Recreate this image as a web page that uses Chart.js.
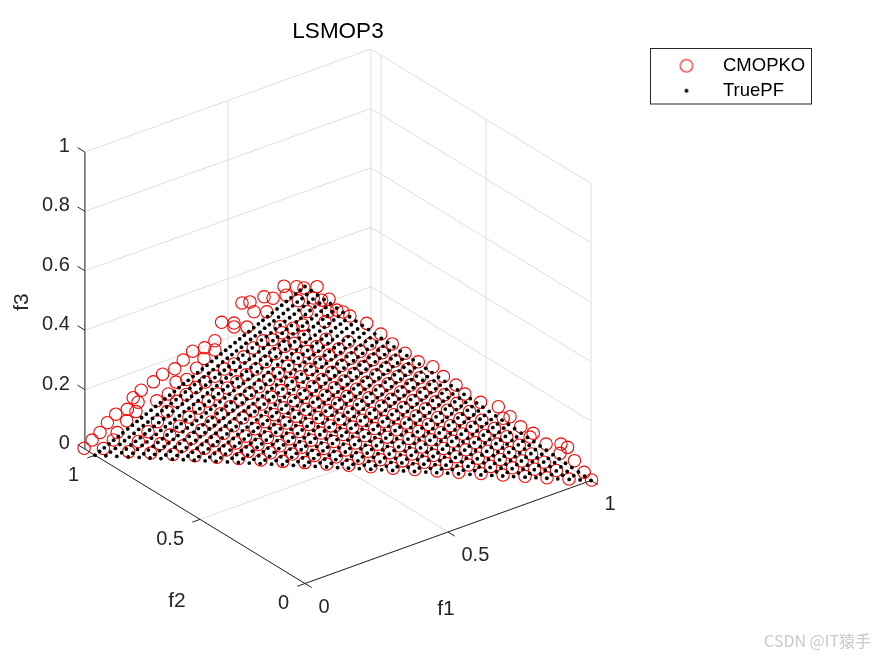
<!DOCTYPE html>
<html>
<head>
<meta charset="utf-8">
<title>LSMOP3</title>
<script src="https://cdn.jsdelivr.net/npm/chart.js@4"></script>
<style>
  html, body { margin: 0; padding: 0; background: #fff; }
  canvas { display: block; }
</style>
</head>
<body>
<canvas id="chart" width="875" height="656"></canvas>
<script>
// all f values are in thousandths
const cmopkoF1 = [
  0,0,0,0,0,0,0,0,0,0,0,0,0,0,0,0,0,0,0,0,0,0,0,0,0,0,0,0,0,0,0,0,0,0,0,0,0,0,0,0,0,0,0,0,0,0,
  42,29,58,84,111,7,81,70,157,133,216,265,305,350,396,447,484,528,559,614,676,693,717,754,798,787,843,895,918,892,942,976,1002,
  87,130,174,218,261,304,348,391,435,478,522,565,609,652,696,739,783,826,870,913,957,
  87,130,174,218,261,304,348,391,435,478,522,565,609,652,696,739,783,826,870,913,
  87,130,174,218,261,304,348,391,435,478,522,565,609,652,696,739,783,826,870,
  87,130,174,218,261,304,348,391,435,478,522,565,609,652,696,739,783,826,
  87,130,174,218,261,304,348,391,435,478,522,565,609,652,696,739,783,
  87,130,174,218,261,304,348,391,435,478,522,565,609,652,696,739,
  87,130,174,218,261,304,348,391,435,478,522,565,609,652,696,
  87,130,174,218,261,304,348,391,435,478,522,565,609,652,
  87,130,174,218,261,304,348,391,435,478,522,565,609,
  87,130,174,218,261,304,348,391,435,478,522,565,
  87,130,174,218,261,304,348,391,435,478,522,
  87,130,174,218,261,304,348,391,435,478,
  87,130,174,218,261,304,348,391,435,
  87,130,174,218,261,304,348,391,
  87,130,174,218,261,304,348,
  87,130,174,218,261,304,
  87,130,174,218,261
];
const cmopkoF2 = [
  1052,1014,976,941,901,846,818,795,805,849,894,780,722,678,620,580,535,478,429,481,429,516,614,563,651,706,397,338,338,276,300,262,243,195,152,182,100,40,5,90,32,119,57,10,960,913,
  0,0,0,0,0,0,0,0,0,0,0,0,0,0,0,0,0,0,0,0,0,0,0,0,0,0,0,0,0,0,0,0,0,
  958,912,866,821,775,730,684,638,593,547,502,456,410,365,319,274,228,182,137,91,46,
  912,866,821,775,730,684,638,593,547,502,456,410,365,319,274,228,182,137,91,46,
  866,821,775,730,684,638,593,547,502,456,410,365,319,274,228,182,137,91,46,
  821,775,730,684,638,593,547,502,456,410,365,319,274,228,182,137,91,46,
  775,730,684,638,593,547,502,456,410,365,319,274,228,182,137,91,46,
  730,684,638,593,547,502,456,410,365,319,274,228,182,137,91,46,
  684,638,593,547,502,456,410,365,319,274,228,182,137,91,46,
  638,593,547,502,456,410,365,319,274,228,182,137,91,46,
  593,547,502,456,410,365,319,274,228,182,137,91,46,
  547,502,456,410,365,319,274,228,182,137,91,46,
  502,456,410,365,319,274,228,182,137,91,46,
  456,410,365,319,274,228,182,137,91,46,
  410,365,319,274,228,182,137,91,46,
  365,319,274,228,182,137,91,46,
  319,274,228,182,137,91,46,
  274,228,182,137,91,46,
  228,182,137,91,46
];
const cmopkoF3 = [
  1,45,87,135,181,221,272,267,231,181,122,314,367,412,455,502,551,587,632,550,601,502,413,444,357,310,708,731,718,744,815,835,810,881,895,836,958,982,993,932,938,813,835,866,40,89,
  985,951,934,928,882,913,887,857,846,868,801,748,701,654,609,575,529,485,444,397,361,316,313,266,229,220,177,159,140,129,87,36,1,
  0,0,0,0,0,0,0,0,0,0,0,0,0,0,0,0,0,0,0,0,0,
  54,51,48,45,44,44,44,44,44,44,44,44,44,44,44,44,44,44,44,44,
  107,100,94,90,87,87,87,87,87,87,87,87,87,87,87,87,87,87,87,
  160,150,141,135,130,130,130,130,130,130,130,130,130,130,130,130,130,130,
  214,200,188,180,174,174,174,174,174,174,174,174,174,174,174,174,174,
  268,250,236,226,218,218,218,218,218,218,218,218,218,218,218,218,
  311,294,279,269,261,261,261,261,261,261,261,261,261,261,261,
  354,337,322,312,304,304,304,304,304,304,304,304,304,304,
  392,377,363,355,348,348,348,348,348,348,348,348,348,
  431,417,405,397,391,391,391,391,391,391,391,391,
  475,461,449,441,435,435,435,435,435,435,435,
  512,500,490,483,478,478,478,478,478,478,
  556,544,534,527,522,522,522,522,522,
  605,591,579,571,565,565,565,565,
  649,635,623,615,609,609,609,
  672,665,659,655,652,652,
  716,709,703,699,696
];

// TruePF is a regular surface: f1 and f2 levels plus an f3 row per f1 level
const truePfLevels = [0,22,44,67,89,111,133,156,178,200,222,244,267,289,311,333,356,378,400,422,444,467,489,511,533,556,578,600,622,644,667,689,711,733,756,778,800,822,844,867,889,911,933,956,978,1000];
const truePfF3 = [
  [1000,978,956,933,911,889,867,844,822,800,778,756,733,711,689,667,644,622,600,578,556,533,511,489,467,444,422,400,378,356,333,311,289,267,244,222,200,178,156,133,111,89,67,44,22,0],
  [978,956,933,911,889,867,844,822,800,778,756,733,711,689,667,644,622,600,578,556,533,511,489,467,444,422,400,378,356,333,311,289,267,244,222,200,178,156,133,111,89,67,44,22,0],
  [956,933,911,889,867,844,822,800,778,756,733,711,689,667,644,622,600,578,556,533,511,489,467,444,422,400,378,356,333,311,289,267,244,222,200,178,156,133,111,89,67,44,22,0],
  [933,911,889,867,844,822,800,778,756,733,711,689,667,644,622,600,578,556,533,511,489,467,444,422,400,378,356,333,311,289,267,244,222,200,178,156,133,111,89,67,44,22,0],
  [911,889,867,844,822,800,778,756,733,711,689,667,644,622,600,578,556,533,511,489,467,444,422,400,378,356,333,311,289,267,244,222,200,178,156,133,111,89,67,44,22,0],
  [889,867,844,822,800,778,756,733,711,689,667,644,622,600,578,556,533,511,489,467,444,422,400,378,356,333,311,289,267,244,222,200,178,156,133,111,89,67,44,22,0],
  [867,844,822,800,778,756,733,711,689,667,644,622,600,578,556,533,511,489,467,444,422,400,378,356,333,311,289,267,244,222,200,178,156,133,111,89,67,44,22,0],
  [844,822,800,778,756,733,711,689,667,644,622,600,578,556,533,511,489,467,444,422,400,378,356,333,311,289,267,244,222,200,178,156,133,111,89,67,44,22,0],
  [822,800,778,756,733,711,689,667,644,622,600,578,556,533,511,489,467,444,422,400,378,356,333,311,289,267,244,222,200,178,156,133,111,89,67,44,22,0],
  [800,778,756,733,711,689,667,644,622,600,578,556,533,511,489,467,444,422,400,378,356,333,311,289,267,244,222,200,178,156,133,111,89,67,44,22,0],
  [778,756,733,711,689,667,644,622,600,578,556,533,511,489,467,444,422,400,378,356,333,311,289,267,244,222,200,178,156,133,111,89,67,44,22,0],
  [756,733,711,689,667,644,622,600,578,556,533,511,489,467,444,422,400,378,356,333,311,289,267,244,222,200,178,156,133,111,89,67,44,22,0],
  [733,711,689,667,644,622,600,578,556,533,511,489,467,444,422,400,378,356,333,311,289,267,244,222,200,178,156,133,111,89,67,44,22,0],
  [711,689,667,644,622,600,578,556,533,511,489,467,444,422,400,378,356,333,311,289,267,244,222,200,178,156,133,111,89,67,44,22,0],
  [689,667,644,622,600,578,556,533,511,489,467,444,422,400,378,356,333,311,289,267,244,222,200,178,156,133,111,89,67,44,22,0],
  [667,644,622,600,578,556,533,511,489,467,444,422,400,378,356,333,311,289,267,244,222,200,178,156,133,111,89,67,44,22,0],
  [644,622,600,578,556,533,511,489,467,444,422,400,378,356,333,311,289,267,244,222,200,178,156,133,111,89,67,44,22,0],
  [622,600,578,556,533,511,489,467,444,422,400,378,356,333,311,289,267,244,222,200,178,156,133,111,89,67,44,22,0],
  [600,578,556,533,511,489,467,444,422,400,378,356,333,311,289,267,244,222,200,178,156,133,111,89,67,44,22,0],
  [578,556,533,511,489,467,444,422,400,378,356,333,311,289,267,244,222,200,178,156,133,111,89,67,44,22,0],
  [556,533,511,489,467,444,422,400,378,356,333,311,289,267,244,222,200,178,156,133,111,89,67,44,22,0],
  [533,511,489,467,444,422,400,378,356,333,311,289,267,244,222,200,178,156,133,111,89,67,44,22,0],
  [511,489,467,444,422,400,378,356,333,311,289,267,244,222,200,178,156,133,111,89,67,44,22,0],
  [489,467,444,422,400,378,356,333,311,289,267,244,222,200,178,156,133,111,89,67,44,22,0],
  [467,444,422,400,378,356,333,311,289,267,244,222,200,178,156,133,111,89,67,44,22,0],
  [444,422,400,378,356,333,311,289,267,244,222,200,178,156,133,111,89,67,44,22,0],
  [422,400,378,356,333,311,289,267,244,222,200,178,156,133,111,89,67,44,22,0],
  [400,378,356,333,311,289,267,244,222,200,178,156,133,111,89,67,44,22,0],
  [378,356,333,311,289,267,244,222,200,178,156,133,111,89,67,44,22,0],
  [356,333,311,289,267,244,222,200,178,156,133,111,89,67,44,22,0],
  [333,311,289,267,244,222,200,178,156,133,111,89,67,44,22,0],
  [311,289,267,244,222,200,178,156,133,111,89,67,44,22,0],
  [289,267,244,222,200,178,156,133,111,89,67,44,22,0],
  [267,244,222,200,178,156,133,111,89,67,44,22,0],
  [244,222,200,178,156,133,111,89,67,44,22,0],
  [222,200,178,156,133,111,89,67,44,22,0],
  [200,178,156,133,111,89,67,44,22,0],
  [178,156,133,111,89,67,44,22,0],
  [156,133,111,89,67,44,22,0],
  [133,111,89,67,44,22,0],
  [111,89,67,44,22,0],
  [89,67,44,22,0],
  [67,44,22,0],
  [44,22,0],
  [22,0],
  [0]
];

const f1Ticks = [0, 0.5, 1];
const f2Ticks = [0, 0.5, 1];
const f3Ticks = [0, 0.2, 0.4, 0.6, 0.8, 1];
const f2Max = 1.048; // matlab ran the f2 axis a bit past the last tick

// view of the 3D box, screen units per unit of f
function project(f1, f2, f3) {
  return {
    x: 305 + 286 * f1 - 210 * f2,
    y: 583.5 - 103 * f1 - 128.3 * f2 - 297 * f3
  };
}

const cmopkoPoints = cmopkoF1.map((f1, i) => project(f1 / 1000, cmopkoF2[i] / 1000, cmopkoF3[i] / 1000));

const truePfPoints = [];
truePfF3.forEach((row, i) => {
  row.forEach((f3, j) => {
    truePfPoints.push(project(truePfLevels[i] / 1000, truePfLevels[j] / 1000, f3 / 1000));
  });
});

// line segments separated by gaps
function segments(list) {
  const out = [];
  list.forEach(([a, b]) => {
    out.push(project(...a), project(...b), { x: null, y: null });
  });
  return out;
}

const gridSegments = [];
f3Ticks.forEach(z => {
  gridSegments.push([[0, f2Max, z], [1, f2Max, z]], [[1, f2Max, z], [1, 0, z]]);
});
f1Ticks.forEach(t => {
  gridSegments.push([[t, f2Max, 0], [t, f2Max, 1]], [[t, 0, 0], [t, f2Max, 0]]);
});
f2Ticks.forEach(t => {
  gridSegments.push([[1, t, 0], [1, t, 1]], [[0, t, 0], [1, t, 0]]);
});

const axisSegments = [
  [[0, 0, 0], [1, 0, 0]],
  [[0, 0, 0], [0, f2Max, 0]],
  [[0, f2Max, 0], [0, f2Max, 1]]
];
f1Ticks.forEach(t => axisSegments.push([[t, 0, 0], [t, -0.032, 0]]));
f2Ticks.forEach(t => axisSegments.push([[0, t, 0], [-0.027, t, 0]]));
f3Ticks.forEach(t => axisSegments.push([[0, f2Max, t], [0, f2Max + 0.035, t]]));

function markerCanvas(draw) {
  const c = document.createElement("canvas");
  c.width = 18;
  c.height = 18;
  draw(c.getContext("2d"));
  return c;
}
const circleMarker = markerCanvas(g => {
  g.strokeStyle = "#ff0000";
  g.lineWidth = 1.1;
  g.beginPath();
  g.arc(9, 9, 6.2, 0, Math.PI * 2);
  g.stroke();
});
const dotMarker = markerCanvas(g => {
  g.fillStyle = "#000";
  g.beginPath();
  g.arc(9, 9, 1.9, 0, Math.PI * 2);
  g.fill();
});

const axisText = {
  id: "axisText",
  afterLayout(chart) {
    // title and legend sit off centre in the figure
    const t = chart.titleBlock;
    t.left = 238;
    t.right = 438;
    const l = chart.legend;
    l.left = 652.75;
    l.right = 811;
    l.top = 50;
    l.bottom = 400; // past the last row, the legend wraps otherwise
  },
  afterDraw(chart) {
    const { ctx, scales } = chart;
    const put = (text, p, dx, dy, align, size) => {
      ctx.font = size + 'px "Liberation Sans"';
      ctx.textAlign = align;
      ctx.textBaseline = "middle";
      ctx.fillText(text, scales.x.getPixelForValue(p.x) + dx, scales.y.getPixelForValue(p.y) + dy);
    };
    ctx.save();
    ctx.fillStyle = "#262626";
    f3Ticks.forEach(t => put(String(t), project(0, f2Max, t), -15, -5.5, "right", 20));
    f2Ticks.forEach(t => put(String(t), project(0, t, 0), -16, 20, "right", 20));
    f1Ticks.forEach(t => put(String(t), project(t, 0, 0), 13.5, 23.5, "left", 20));
    put("f1", { x: 446, y: 609 }, 0, 0, "center", 21);
    put("f2", { x: 177, y: 601 }, 0, 0, "center", 21);

    ctx.translate(22, 302);
    ctx.rotate(-Math.PI / 2);
    ctx.font = '21px "Liberation Sans"';
    ctx.textAlign = "center";
    ctx.fillText("f3", 0, 0);
    ctx.restore();

    ctx.save();
    ctx.strokeStyle = "#262626";
    ctx.lineWidth = 1;
    ctx.strokeRect(650.5, 48.5, 161, 55.5);
    ctx.fillStyle = "#c9c9c9";
    ctx.font = '16px "Noto Sans CJK SC"';
    ctx.textAlign = "right";
    ctx.textBaseline = "middle";
    ctx.fillText("CSDN @IT猿手", 871, 641);
    ctx.restore();
  }
};

new Chart(document.getElementById("chart").getContext("2d"), {
  type: "scatter",
  data: {
    datasets: [
      {
        label: "CMOPKO",
        data: cmopkoPoints,
        order: 2,
        pointStyle: "circle",
        pointRadius: 6.2,
        pointBorderWidth: 1.1,
        pointBorderColor: "#ff0000",
        pointBackgroundColor: "transparent"
      },
      {
        label: "TruePF",
        data: truePfPoints,
        order: 1,
        pointRadius: 1.9,
        pointBorderWidth: 0,
        pointBackgroundColor: "#000"
      },
      {
        label: "grid",
        data: segments(gridSegments),
        order: 4,
        showLine: true,
        pointRadius: 0,
        borderWidth: 1,
        borderColor: "#dedede"
      },
      {
        label: "axes",
        data: segments(axisSegments),
        order: 3,
        showLine: true,
        pointRadius: 0,
        borderWidth: 1,
        borderColor: "#262626"
      }
    ]
  },
  options: {
    responsive: false,
    animation: false,
    events: [],
    layout: { padding: 0, autoPadding: false },
    scales: {
      x: { type: "linear", display: false, min: 0, max: 875 },
      y: { type: "linear", display: false, min: 43.5, max: 656, reverse: true }
    },
    plugins: {
      tooltip: { enabled: false },
      title: {
        display: true,
        text: "LSMOP3",
        color: "#000",
        font: { family: "Liberation Sans", size: 22.5, weight: "normal", lineHeight: 1 },
        padding: { top: 21, bottom: 0 }
      },
      legend: {
        display: true,
        position: "chartArea",
        fullSize: false,
        align: "start",
        labels: {
          usePointStyle: true,
          pointStyleWidth: 54.5,
          padding: 6.5,
          color: "#000",
          font: { family: "Liberation Sans", size: 18.5 },
          generateLabels: () => [
            { text: "CMOPKO", pointStyle: circleMarker, lineWidth: 0, hidden: false, datasetIndex: 0 },
            { text: "TruePF", pointStyle: dotMarker, lineWidth: 0, hidden: false, datasetIndex: 1 }
          ]
        }
      }
    }
  },
  plugins: [axisText]
});
</script>
</body>
</html>
